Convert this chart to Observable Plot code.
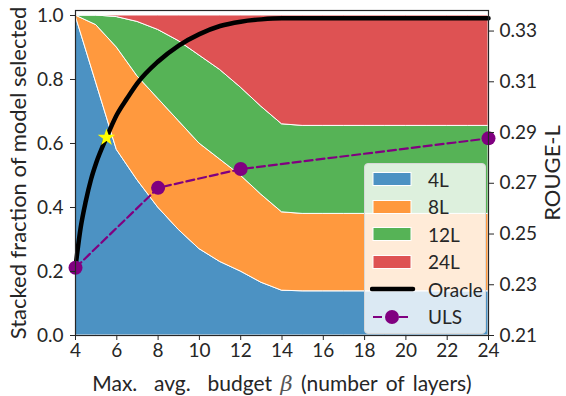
<!DOCTYPE html>
<html>
<head>
<meta charset="utf-8">
<script src="https://cdn.jsdelivr.net/npm/d3@7"></script>
<script src="https://cdn.jsdelivr.net/npm/@observablehq/plot@0.6"></script>
<style>
  html, body { margin: 0; padding: 0; background: #fff; }
  #chart { position: relative; width: 566px; height: 396px; font-family: Lato, "DejaVu Sans", sans-serif; color: #262626; overflow: hidden; }
  #chart > svg { position: absolute; left: 0; top: 0; }
  .axis-title { position: absolute; font-size: 21px; white-space: nowrap; line-height: 1; }
  .beta { font-family: "DejaVu Serif", serif; font-style: italic; color: #555; }
  #legend { position: absolute; left: 364px; top: 163px; width: 122px; height: 171px; box-sizing: border-box;
            background: rgba(255,255,255,0.8); border: 1px solid #d8d8d8; border-radius: 4px; }
  .lg-row { position: absolute; left: 0; height: 20px; display: flex; align-items: center; font-size: 19px; line-height: 1; }
  .lg-key { display: block; width: 48px; height: 20px; margin-left: 5px; flex: none; }
  .lg-label { margin-left: 10px; }
</style>
</head>
<body>
<div id="chart"></div>
<script>
// Budgets (max average number of layers) on the x axis
const budgets = [4, 5, 6, 7, 8, 9, 10, 11, 12, 13, 14, 15, 16, 17, 18, 19, 20, 21, 22, 23, 24];

// Fraction of inputs routed to each model size
const models = ["4L", "8L", "12L", "24L"];
const modelColors = ["#4c92c3", "#ff993e", "#56b356", "#de5253"];
const frac4L  = [1.00, 0.79, 0.58, 0.485, 0.40, 0.33, 0.27, 0.23, 0.20, 0.165, 0.14, 0.138, 0.138, 0.138, 0.138, 0.138, 0.138, 0.138, 0.138, 0.138, 0.138];
const frac8L  = [0.00, 0.18, 0.32, 0.325, 0.34, 0.34, 0.33, 0.32, 0.30, 0.275, 0.245, 0.242, 0.242, 0.242, 0.242, 0.242, 0.242, 0.242, 0.242, 0.242, 0.242];
const frac12L = [0.00, 0.03, 0.095, 0.17, 0.215, 0.25, 0.275, 0.28, 0.275, 0.275, 0.275, 0.275, 0.275, 0.275, 0.275, 0.275, 0.275, 0.275, 0.275, 0.275, 0.275];
const frac24L = [0.00, 0.00, 0.005, 0.02, 0.045, 0.08, 0.125, 0.17, 0.225, 0.285, 0.34, 0.345, 0.345, 0.345, 0.345, 0.345, 0.345, 0.345, 0.345, 0.345, 0.345];

// Oracle ROUGE-L curve
const oracleBudget = [4, 4.25, 4.5, 4.75, 5, 5.5, 6, 6.5, 7, 8, 9, 10, 11, 12, 13, 14, 16, 18, 20, 22, 24];
const oracleRouge  = [0.237, 0.2525, 0.263, 0.2715, 0.278, 0.288, 0.297, 0.3035, 0.3095, 0.318, 0.3243, 0.3288, 0.332, 0.3337, 0.3346, 0.335, 0.335, 0.335, 0.335, 0.335, 0.335];

// ULS ROUGE-L at the evaluated budgets
const ulsBudget = [4, 8, 12, 24];
const ulsRouge  = [0.2367, 0.2682, 0.2756, 0.2877];

// Highlighted oracle point
const starBudget = [5.5];
const starRouge  = [0.288];

// Tick values
const xTicks = [4, 6, 8, 10, 12, 14, 16, 18, 20, 22, 24];
const fracTicks = [0, 0.2, 0.4, 0.6, 0.8, 1.0];
const rougeTicks = [0.21, 0.23, 0.25, 0.27, 0.29, 0.31, 0.33];

// Left (fraction) and right (ROUGE-L) axes share the plot height
const fracDomain = [0, 1.0156];
const rougeDomain = [0.21, 0.3381];
const toLeft = d3.scaleLinear(rougeDomain, fracDomain);

const fracSeries = [frac4L, frac8L, frac12L, frac24L];
const stackRows = models.flatMap((m, k) => budgets.map((b, i) => ({budget: b, model: m, frac: fracSeries[k][i]})));
const oracleRows = oracleBudget.map((b, i) => ({budget: b, v: toLeft(oracleRouge[i])}));
const ulsRows = ulsBudget.map((b, i) => ({budget: b, v: toLeft(ulsRouge[i])}));
const starRows = starBudget.map((b, i) => ({budget: b, v: toLeft(starRouge[i])}));

const plot = Plot.plot({
  width: 566,
  height: 396,
  marginLeft: 75,
  marginRight: 78,
  marginTop: 10,
  marginBottom: 61,
  style: {fontFamily: "Lato, 'DejaVu Sans', sans-serif", fontSize: "19px", color: "#262626", background: "transparent", overflow: "visible"},
  x: {domain: [4, 24]},
  y: {domain: fracDomain},
  color: {domain: models, range: modelColors},
  marks: [
    Plot.areaY(stackRows, Plot.stackY({x: "budget", y: "frac", z: "model", fill: "model", order: models, stroke: "white", strokeWidth: 1})),
    Plot.line(oracleRows, {x: "budget", y: "v", stroke: "black", strokeWidth: 4.5, curve: "monotone-x"}),
    Plot.line(ulsRows, {x: "budget", y: "v", stroke: "purple", strokeWidth: 2.2, strokeDasharray: "8,4"}),
    Plot.dot(ulsRows, {x: "budget", y: "v", r: 7, fill: "purple"}),
    Plot.dot(starRows, {x: "budget", y: "v", symbol: "star", r: 5.5, fill: "yellow"}),
    Plot.frame({stroke: "#262626", strokeWidth: 1.2}),
    Plot.axisX({ticks: xTicks, tickFormat: "d", tickSize: 5, tickPadding: 3, label: null}),
    Plot.axisY({ticks: fracTicks, tickFormat: ".1f", tickSize: 5, tickPadding: 7, anchor: "left", label: null}),
    Plot.axisY({ticks: rougeTicks.map(toLeft), tickFormat: d => toLeft.invert(d).toFixed(2), tickSize: 5, tickPadding: 6, anchor: "right", label: null})
  ]
});

const chart = document.getElementById("chart");
chart.appendChild(plot);

// Axis titles
const xTitle = document.createElement("div");
xTitle.className = "axis-title";
xTitle.innerHTML = 'Max.&nbsp; avg.&nbsp; budget <span class="beta">β</span> (number of layers)';
xTitle.style.left = "282px";
xTitle.style.top = "372px";
xTitle.style.wordSpacing = "3px";
xTitle.style.transform = "translateX(-50%)";
chart.appendChild(xTitle);

const yTitle = document.createElement("div");
yTitle.className = "axis-title";
yTitle.textContent = "Stacked fraction of model selected";
yTitle.style.fontSize = "22px";
yTitle.style.left = "18px";
yTitle.style.top = "173px";
yTitle.style.transform = "translate(-50%, -50%) rotate(-90deg)";
chart.appendChild(yTitle);

const rTitle = document.createElement("div");
rTitle.className = "axis-title";
rTitle.textContent = "ROUGE-L";
rTitle.style.fontSize = "22px";
rTitle.style.left = "552px";
rTitle.style.top = "173px";
rTitle.style.transform = "translate(-50%, -50%) rotate(-90deg)";
chart.appendChild(rTitle);

// Legend
const legend = document.createElement("div");
legend.id = "legend";
const ns = "http://www.w3.org/2000/svg";
function keySvg(kind, color) {
  const s = document.createElementNS(ns, "svg");
  s.setAttribute("width", 48); s.setAttribute("height", 20);
  s.setAttribute("class", "lg-key");
  if (kind === "patch") {
    const r = document.createElementNS(ns, "rect");
    r.setAttribute("x", 3); r.setAttribute("y", 3.5); r.setAttribute("width", 38); r.setAttribute("height", 13);
    r.setAttribute("fill", color); r.setAttribute("stroke", "white"); r.setAttribute("stroke-width", 1);
    s.appendChild(r);
  } else if (kind === "oracle") {
    const l = document.createElementNS(ns, "line");
    l.setAttribute("x1", 2); l.setAttribute("x2", 43); l.setAttribute("y1", 10); l.setAttribute("y2", 10);
    l.setAttribute("stroke", "black"); l.setAttribute("stroke-width", 4.5); l.setAttribute("stroke-linecap", "round");
    s.appendChild(l);
  } else {
    const l = document.createElementNS(ns, "line");
    l.setAttribute("x1", 3); l.setAttribute("x2", 41); l.setAttribute("y1", 10); l.setAttribute("y2", 10);
    l.setAttribute("stroke", "purple"); l.setAttribute("stroke-width", 2.2); l.setAttribute("stroke-dasharray", "9,4");
    const c = document.createElementNS(ns, "circle");
    c.setAttribute("cx", 22); c.setAttribute("cy", 10); c.setAttribute("r", 7); c.setAttribute("fill", "purple");
    s.appendChild(l); s.appendChild(c);
  }
  return s;
}
const entries = models.map((m, i) => ({label: m, kind: "patch", color: modelColors[i]}))
  .concat([{label: "Oracle", kind: "oracle"}, {label: "ULS", kind: "uls"}]);
entries.forEach((e, i) => {
  const row = document.createElement("div");
  row.className = "lg-row";
  row.style.top = (5 + i * 27.5) + "px";
  row.appendChild(keySvg(e.kind, e.color));
  const t = document.createElement("span");
  t.className = "lg-label";
  t.textContent = e.label;
  row.appendChild(t);
  legend.appendChild(row);
});
chart.appendChild(legend);
</script>
</body>
</html>
